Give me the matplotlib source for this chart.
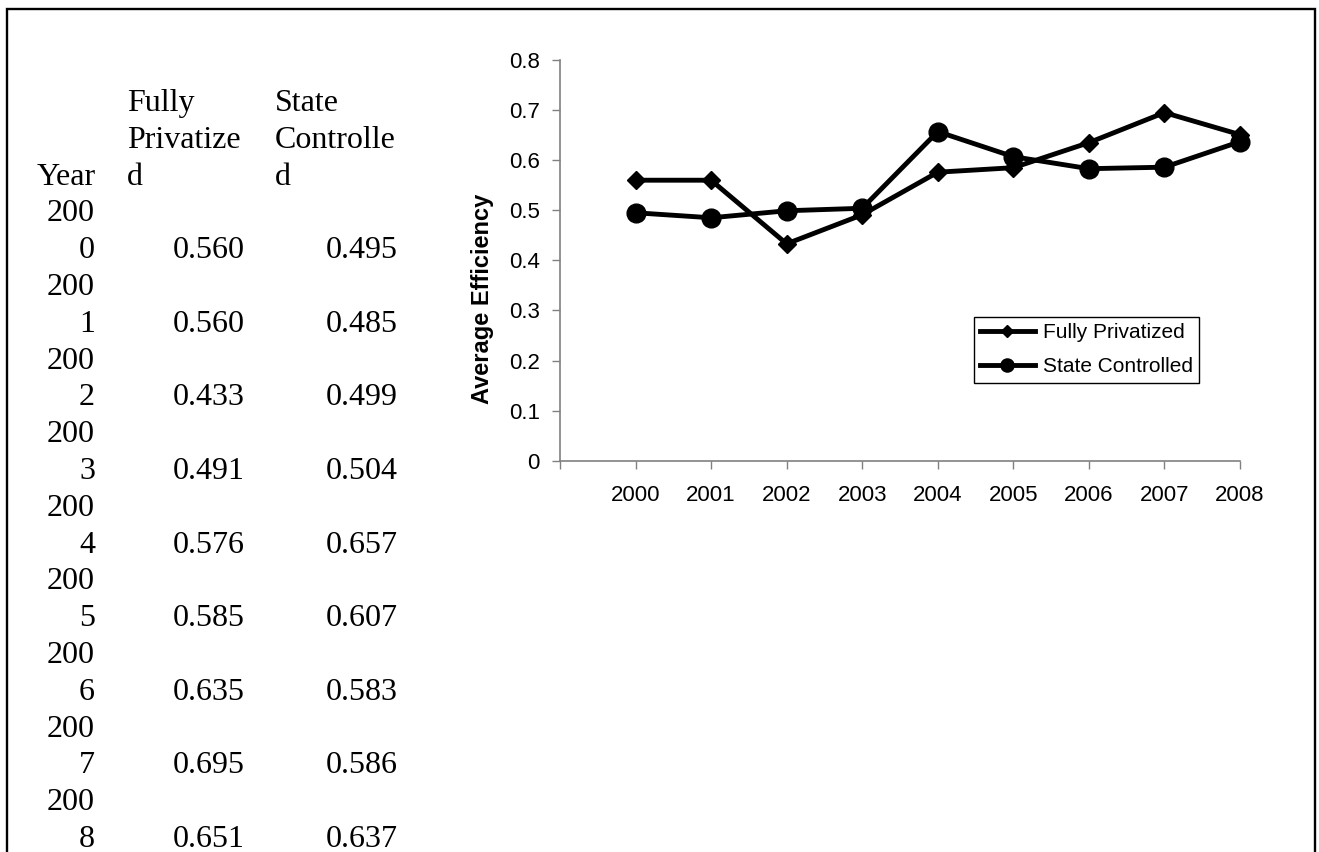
import numpy as np
import matplotlib
matplotlib.use('Agg')
import matplotlib.pyplot as plt
from matplotlib.patches import Rectangle

years = [2000, 2001, 2002, 2003, 2004, 2005, 2006, 2007, 2008]
fully_privatized = [0.560, 0.560, 0.433, 0.491, 0.576, 0.585, 0.635, 0.695, 0.651]
state_controlled = [0.495, 0.485, 0.499, 0.504, 0.657, 0.607, 0.583, 0.586, 0.637]
series_names = ["Fully Privatized", "State Controlled"]
# header cells as they wrap in the narrow table columns
header_lines = [["Year"], ["Fully", "Privatize", "d"], ["State", "Controlle", "d"]]

W, H = 1319, 852
plt.rcParams['font.family'] = ['Liberation Sans', 'DejaVu Sans']

fig = plt.figure(figsize=(W / 100, H / 100), dpi=100)


def fx(px):
    return px / W


def fy(py):
    return 1 - py / H


# outer frame (bottom edge falls outside the picture)
fig.patches.append(Rectangle((fx(6.5), -0.05), fx(1315) - fx(6.5), fy(9) + 0.05,
                             transform=fig.transFigure, fill=False,
                             edgecolor='black', linewidth=1.7))

# ---- data table on the left ----
serif = dict(family=['Liberation Serif', 'DejaVu Serif'], fontsize=23)
line0, step = 111, 36.8
col_year_right = 95
col_left = [127, 275]
col_right = [245, 398]

fig.text(fx(col_year_right + 1), fy(line0 + 2 * step), header_lines[0][0],
         ha='right', va='baseline', **serif)
for c in range(2):
    for k, txt in enumerate(header_lines[c + 1]):
        fig.text(fx(col_left[c]), fy(line0 + k * step), txt,
                 ha='left', va='baseline', **serif)

for i, yr in enumerate(years):
    s = str(yr)
    y1 = line0 + (3 + 2 * i) * step
    y2 = y1 + step
    fig.text(fx(col_year_right), fy(y1), s[:3], ha='right', va='baseline', **serif)
    fig.text(fx(col_year_right), fy(y2), s[3:], ha='right', va='baseline', **serif)
    for c, vals in enumerate([fully_privatized, state_controlled]):
        fig.text(fx(col_right[c]), fy(y2), f"{vals[i]:.3f}",
                 ha='right', va='baseline', **serif)

# ---- line chart on the right ----
ax = fig.add_axes([fx(560), fy(460.7), fx(1240) - fx(560), fy(60) - fy(460.7)])
x = np.arange(len(years))
ax.plot(x, fully_privatized, color='black', linewidth=3.5, marker='D',
        markersize=9, label=series_names[0], clip_on=False)
ax.plot(x, state_controlled, color='black', linewidth=3.5, marker='o',
        markersize=13.5, label=series_names[1], clip_on=False)

ax.set_xlim(-1, len(years) - 1)
ax.set_ylim(0, 0.8)
ax.set_xticks(np.arange(-1, len(years)))
ax.set_xticklabels([''] + [str(y) for y in years])
ax.set_yticks(np.arange(0, 0.81, 0.1))
ax.set_yticklabels([f"{v:g}" for v in np.round(np.arange(0, 0.81, 0.1), 1)])

for side in ['top', 'right']:
    ax.spines[side].set_visible(False)
for side in ['left', 'bottom']:
    ax.spines[side].set_color('#808080')
    ax.spines[side].set_linewidth(1.2)
ax.tick_params(direction='out', length=5.5, width=1, color='#808080',
               labelsize=16, labelcolor='black')
ax.tick_params(axis='x', pad=12)
ax.tick_params(axis='y', pad=9)

ax.set_ylabel("Average Efficiency", fontsize=17, fontweight='bold',
              ha='center', va='center', rotation_mode='anchor')
ax.yaxis.set_label_coords(-0.1147, 0.405)

leg = ax.legend(loc='upper left', bbox_to_anchor=(0.609, 0.3586),
                borderaxespad=0, fontsize=15, fancybox=False, framealpha=1,
                edgecolor='black', handlelength=2.6, handletextpad=0.4,
                borderpad=0.3, labelspacing=0.72, markerscale=0.7)
leg.get_frame().set_linewidth(1)

plt.savefig("out.png", dpi=100, facecolor='white')
plt.close()
